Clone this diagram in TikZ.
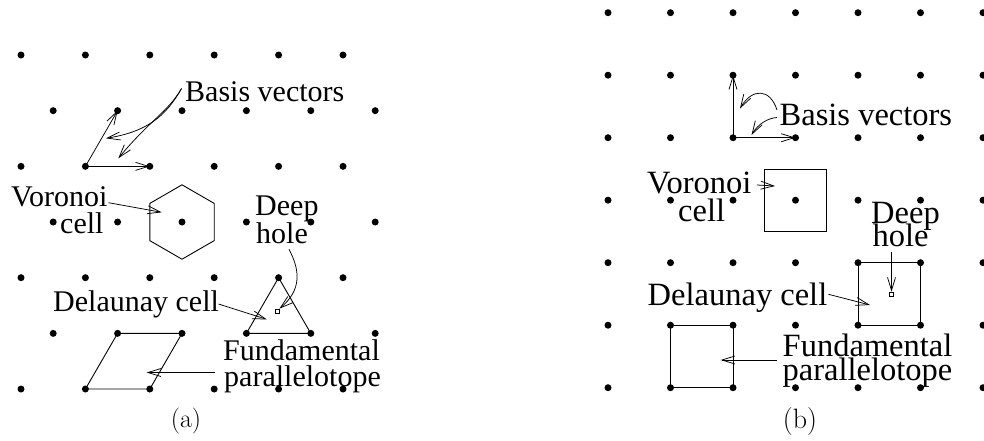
\documentclass[tikz,border=0pt]{standalone}
\usepackage{fontspec}
\setmainfont{Liberation Serif}
\newfontfamily\lmfont{Latin Modern Roman}
\usetikzlibrary{arrows.meta,calc}
\tikzset{
  x=1pt, y=-1pt,
  latdot/.style={circle, fill=black, inner sep=0pt, minimum size=7pt},
  lbla/.style={anchor=base west, inner sep=0pt, font=\fontsize{30}{32}\selectfont},
  lblb/.style={anchor=base west, inner sep=0pt, font=\fontsize{32.5}{34}\selectfont},
  capnode/.style={anchor=base, inner sep=0pt},
  edge/.style={line width=0.9pt},
  pointer/.style={line width=0.75pt, -{Straight Barb[length=13pt,width=8pt,line width=0.75pt]}},
  holebox/.style={draw, line width=0.7pt, inner sep=0pt, minimum size=4pt},
}
\begin{document}
\begin{tikzpicture}
\useasboundingbox (0,0) rectangle (984,440);
\clip (0,0) rectangle (984,440);
% ---------- (a) hexagonal lattice ----------
\foreach \j in {0,...,6}{
  \pgfmathsetmacro{\yy}{55+55.67*\j}
  \pgfmathsetmacro{\xo}{mod(\j,2)==0 ? 21 : 53.2}
  \foreach \k in {0,...,5}{
    \node[latdot] (A-\j-\k) at ({\xo+64.4*\k},\yy) {};
  }
}
% Voronoi hexagon around A-3-2
\draw[edge] ($(A-3-2)+(0,-37.2)$) -- ++(32.2,18.6) -- ++(0,37.2) -- ++(-32.2,18.6) -- ++(-32.2,-18.6) -- ++(0,-37.2) -- cycle;
% Delaunay triangle
\draw[edge] (A-4-4.center) -- (A-5-3.center) -- (A-5-4.center) -- cycle;
% Fundamental parallelotope
\draw[edge] (A-5-1.center) -- (A-5-2.center) -- (A-6-2.center) -- (A-6-1.center) -- cycle;
% basis vectors
\draw[pointer] (A-2-1.center) -- (A-2-2.center);
\draw[pointer] (A-2-1.center) -- (A-1-1.center);
% labels
\node[lbla] (bva) at (185,101.5) {Basis vectors};
\node[lbla] (vora) at (11,206.5) {Voronoi};
\node[lbla] (cella) at (60,233) {cell};
\node[lbla] (deepa) at (255,215) {Deep};
\node[lbla] (holea) at (256,243) {hole};
\node[lbla] (dela) at (53,311.5) {Delaunay cell};
\node[lbla] (funa) at (223,360.5) {Fundamental};
\node[lbla] (para) at (224,386.5) {parallelotope};
\node[holebox] (dha) at (277,311) {};
\coordinate (bvaS) at (181.5,88.5);
\coordinate (bvaT1) at (106,138.3);
\coordinate (bvaT2) at (118.3,158.3);
\coordinate (voraS) at (108.5,202.7);
\coordinate (voraT) at (161.7,212.3);
\coordinate (dhaS) at (289,249.3);
\coordinate (delaS) at (218.5,304);
\coordinate (delaT) at (266.7,319.3);
\coordinate (funaS) at (215,372.5);
\coordinate (funaT) at (146.7,372.5);
\draw[pointer] (bvaS) .. controls (165,118) and (145,132) .. (bvaT1);
\draw[pointer] (bvaS) .. controls (168,112) and (150,120) .. (bvaT2);
\draw[pointer] (voraS) -- (voraT);
\draw[pointer] (dhaS) .. controls (300,270) and (302,290) .. (dha.north east);
\draw[pointer] (delaS) -- (delaT);
\draw[pointer] (funaS) -- (funaT);
\node[capnode, font=\lmfont\fontsize{26}{28}\selectfont] (capa) at (186,427) {(a)};
% ---------- (b) square lattice ----------
\foreach \j in {0,...,6}{
  \foreach \k in {0,...,6}{
    \node[latdot] (B-\j-\k) at ({608+62.5*\k},{12.7+62.5*\j}) {};
  }
}
% Voronoi square around B-3-3
\draw[edge] ($(B-3-3)+(-31.25,-31.25)$) rectangle ($(B-3-3)+(31.25,31.25)$);
% Delaunay square
\draw[edge] (B-4-4.center) -- (B-4-5.center) -- (B-5-5.center) -- (B-5-4.center) -- cycle;
% Fundamental parallelotope
\draw[edge] (B-5-1.center) -- (B-5-2.center) -- (B-6-2.center) -- (B-6-1.center) -- cycle;
% basis vectors
\draw[pointer] (B-2-2.center) -- (B-2-3.center);
\draw[pointer] (B-2-2.center) -- (B-1-2.center);
% labels
\node[lblb] (bvb) at (779.5,125.5) {Basis vectors};
\node[lblb] (vorb) at (647,193) {Voronoi};
\node[lblb] (cellb) at (678,221.5) {cell};
\node[lblb] (deepb) at (871,223.5) {Deep};
\node[lblb] (holeb) at (872.5,246) {hole};
\node[lblb] (delb) at (647.5,305) {Delaunay cell};
\node[lblb] (funb) at (782.5,356.5) {Fundamental};
\node[lblb] (parb) at (782.5,380) {parallelotope};
\node[holebox] (dhb) at (891.5,294) {};
\coordinate (bvbS1) at (777,110);
\coordinate (bvbT1) at (740,108.5);
\coordinate (bvbS2) at (777,117.5);
\coordinate (bvbT2) at (751.5,135);
\coordinate (vorbS) at (757,185);
\coordinate (vorbT) at (775,186);
\coordinate (dhbS) at (891.5,251.5);
\coordinate (delbS) at (828.5,294.3);
\coordinate (delbT) at (870,305);
\coordinate (funbS) at (776.7,360);
\coordinate (funbT) at (720.7,360);
\draw[pointer] (bvbS1) .. controls (770,88) and (752,88) .. (bvbT1);
\draw[pointer] (bvbS2) .. controls (768,118) and (758,124) .. (bvbT2);
\draw[pointer] (vorbS) -- (vorbT);
\draw[pointer] (dhbS) -- (dhb.north);
\draw[pointer] (delbS) -- (delbT);
\draw[pointer] (funbS) -- (funbT);
\node[capnode, font=\lmfont\fontsize{28}{30}\selectfont] (capb) at (800,428) {(b)};
\end{tikzpicture}
\end{document}
